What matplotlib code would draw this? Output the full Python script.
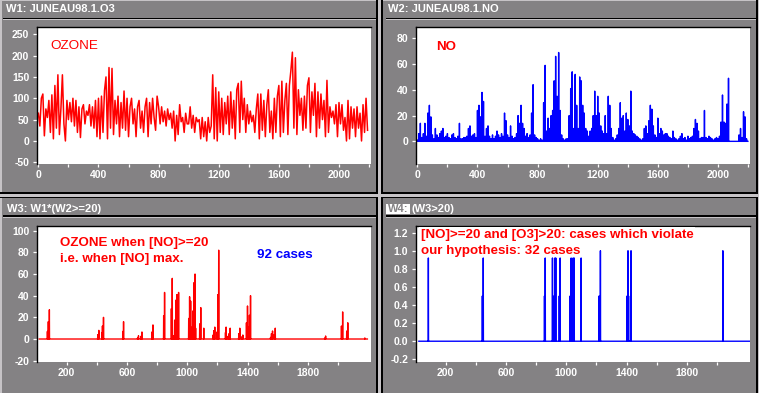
import numpy as np
import matplotlib.pyplot as plt
from matplotlib.patches import Rectangle
from matplotlib.ticker import FormatStrFormatter

plt.rcParams['font.family'] = ['Liberation Sans', 'DejaVu Sans']
plt.rcParams['font.weight'] = 'bold'
plt.rcParams['axes.unicode_minus'] = False
plt.rcParams['path.simplify'] = False

# W1: ozone, one reading every 10 h
o3_step = 10
o3 = [65, 35, 100, 110, 12, 75, 55, 95, 20, 108,
      5, 130, 30, 155, 15, 75, 155, 40, 0, 95,
      50, 90, 45, 100, 35, 95, 20, 80, 8, 75,
      85, 40, 70, 60, 85, 35, 80, 30, 95, 10,
      100, 5, 105, 20, 118, 150, 5, 172, 30, 170,
      15, 95, 40, 105, 10, 90, 30, 117, 25, 100,
      10, 80, 100, 40, 75, 10, 80, 95, 30, 70,
      20, 80, 100, 10, 90, 40, 100, 55, 25, 105,
      80, 40, 80, 45, 70, 35, 75, 50, 65, 30,
      70, 0, 60, 15, 85, 45, 55, 20, 65, 40,
      40, 80, 30, 60, 20, 55, 45, 50, 5, 55,
      10, 45, 0, 55, 20, 35, 155, 5, 125, 0,
      115, 20, 100, 15, 90, 40, 105, 15, 115, 30,
      95, 5, 120, 135, 20, 140, 50, 100, 20, 85,
      40, 70, 45, 60, 20, 75, 110, 5, 110, 25,
      95, 10, 85, 120, 20, 70, 5, 100, 20, 105,
      130, 10, 140, 20, 95, 135, 15, 130, 165, 208,
      30, 195, 15, 120, 60, 100, 25, 105, 30, 130,
      148, 20, 115, 60, 135, 10, 115, 30, 110, 50,
      95, 10, 142, 20, 80, 55, 70, 40, 85, 10,
      90, 40, 85, 25, 55, 0, 95, 5, 80, 30,
      75, 10, 80, 30, 65, 0, 85, 20, 100, 25]

# W2: NO, same 10 h grid
no_step = 10
no = [1, 6, 14, 3, 6, 14, 4, 22, 28, 19,
      5, 2, 10, 5, 3, 6, 8, 10, 3, 4,
      6, 3, 2, 5, 6, 3, 2, 4, 14, 2,
      2, 3, 3, 4, 10, 12, 4, 5, 6, 3,
      24, 28, 19, 38, 31, 4, 10, 12, 4, 2,
      5, 2, 4, 8, 5, 3, 6, 4, 22, 16,
      5, 3, 12, 4, 2, 3, 6, 20, 14, 28,
      14, 10, 4, 6, 3, 5, 22, 44, 5, 3,
      2, 1, 2, 1, 30, 59, 8, 18, 10, 20,
      24, 47, 66, 35, 69, 24, 5, 2, 1, 2,
      2, 20, 41, 54, 10, 52, 28, 10, 50, 47,
      28, 22, 10, 8, 4, 8, 10, 20, 39, 20,
      35, 22, 12, 8, 6, 20, 6, 35, 28, 10,
      3, 1, 2, 5, 10, 30, 18, 20, 8, 22,
      17, 12, 39, 8, 6, 5, 4, 3, 2, 1,
      2, 10, 12, 6, 16, 28, 25, 12, 5, 3,
      18, 6, 10, 8, 5, 6, 6, 4, 3, 2,
      8, 3, 2, 1, 2, 4, 6, 2, 3, 1,
      4, 2, 3, 4, 10, 17, 14, 8, 2, 3,
      3, 24, 3, 2, 4, 3, 2, 1, 2, 3,
      2, 4, 15, 36, 15, 14, 29, 49, 0, 0,
      0, 0, 0, 0, 5, 10, 3, 23, 19, 2]

# W3: ozone where NO >= 20 (zero elsewhere)
w3_span = (18, 2194)
w3_hours = [72, 78, 85, 406, 413, 433, 437, 444, 572, 577, 670, 676, 692, 699,
            765, 772, 843, 849, 894, 900, 909, 916, 925, 931, 936, 942,
            1009, 1015, 1022, 1031, 1038, 1044, 1051, 1055, 1082, 1089, 1109,
            1171, 1175, 1182, 1197, 1202, 1208, 1253, 1257, 1270, 1277, 1284,
            1341, 1348, 1361, 1368, 1392, 1399, 1406, 1412, 1419,
            1552, 1558, 1565, 1576, 1583, 1911, 1917, 2022, 2030, 2057, 2064, 2177]
w3_vals = [7, 16, 27, 4, 8, 6, 12, 20, 7, 16, 1, 3, 2.5, 6.5,
           6.5, 13, 21.5, 43, 28, 56, 3, 17.5, 36, 41, 21, 43,
           19, 39, 35, 11, 26, 52, 60, 10, 14, 29, 10,
           3.7, 7.7, 11, 6.5, 41, 82, 6, 11, 2.5, 5, 10,
           5, 10, 2, 3.7, 15, 30.5, 11, 22, 40,
           1.5, 5, 7.4, 4, 10, 1, 2.8, 12, 25, 7.4, 15, 1]

# W4: W3 > 20
w4_span = (22, 2218)
w4_hours = [85, 443, 449, 855, 860, 908, 917, 924, 930, 953, 959,
            1025, 1032, 1039, 1045, 1052, 1098, 1217, 1226, 1403, 1409, 1425, 1429, 2038]
w4_vals = [0.92, 0.5, 0.92, 0.5, 0.92, 0.92, 0.5, 0.92, 0.92, 0.5, 0.92,
           0.5, 0.92, 0.5, 0.92, 0.92, 0.92, 0.5, 1.0, 0.5, 1.0, 0.5, 1.0, 1.0]

W, H = 759, 393
GRAY = '#848284'
LIGHT = '#c6c3c6'
RED = '#ff0000'
BLUE = '#0000ff'

fig = plt.figure(figsize=(W / 100, H / 100), dpi=100, facecolor=GRAY)

# window frames, in pixel units on a background axes
bg = fig.add_axes([0, 0, 1, 1])
bg.set_xlim(0, W)
bg.set_ylim(H, 0)
bg.axis('off')


def box(x, y, w, h, color):
    bg.add_patch(Rectangle((x, y), w, h, facecolor=color, edgecolor='none', lw=0))


box(0, 0, 1.7, H, LIGHT)
box(0, 0, W, 1, LIGHT)
box(378, 0, 3, H, LIGHT)
box(0, 194, W, 3, LIGHT)
box(758, 0, 1, H, LIGHT)
for y0, y1 in [(0, 194), (197, H)]:
    box(376, y0, 2, y1 - y0, 'black')
    box(381, y0, 1.5, y1 - y0, 'black')
    box(756, y0, 1.7, y1 - y0, 'black')
for x0, x1 in [(0, 378), (381, 758)]:
    box(x0, 192, x1 - x0, 2, 'black')
    box(x0, 197, x1 - x0, 1.3, 'black')
for x0, x1 in [(3, 376), (385.5, 756)]:
    for y in (17.5, 215.3):
        box(x0, y, x1 - x0, 1.3, 'black')
        box(x0, y + 1.3, x1 - x0, 1.3, LIGHT)


def title(x, y, s, color='white'):
    fig.text(x / W, 1 - y / H, s, color=color, fontsize=8,
             fontweight='bold', va='baseline', ha='left')


title(6, 12.3, 'W1: JUNEAU98.1.O3')
title(388, 12.3, 'W2: JUNEAU98.1.NO')
title(6.7, 212, 'W3: W1*(W2>=20)')
box(386.3, 204.3, 23.4, 9.3, 'white')
title(387.5, 212, 'W4:', GRAY)
title(411, 212, '(W3>20)')


def panel(x, y, w, h, xlim, ylim, yticks, xmajor, xminor):
    ax = fig.add_axes([x / W, 1 - (y + h) / H, w / W, h / H])
    ax.set_facecolor('white')
    ax.set_xlim(*xlim)
    ax.set_ylim(*ylim)
    ax.set_yticks(yticks)
    ax.set_xticks(xmajor)
    ax.set_xticks(xminor, minor=True)
    ax.spines[['bottom', 'right']].set_visible(False)
    ax.spines[['left', 'top']].set_linewidth(1.0)
    ax.tick_params(which='both', colors='white', labelsize=7.5, width=0.9)
    ax.tick_params(axis='x', which='both', length=2.2, pad=2.2)
    ax.tick_params(axis='y', length=3, pad=2.5)
    return ax


ax1 = panel(37, 27, 334, 137, (-9, 2213), (-54, 267), range(-50, 251, 50),
            range(0, 2001, 400), range(200, 2201, 400))
ax2 = panel(416, 27, 334, 137, (-9, 2213), (-17.6, 88.8), range(0, 81, 20),
            range(0, 2001, 400), range(200, 2201, 400))
ax3 = panel(37, 225.7, 334, 136.6, (3, 2218), (-21.5, 104.6), range(-20, 101, 20),
            range(200, 1801, 400), range(400, 2201, 400))
ax4 = panel(416, 225.7, 334, 136.6, (3, 2218), (-0.233, 1.277),
            [-0.2, 0.0, 0.2, 0.4, 0.6, 0.8, 1.0, 1.2],
            range(200, 1801, 400), range(400, 2201, 400))
ax4.yaxis.set_major_formatter(FormatStrFormatter('%.1f'))

# W1
o3_hours = np.arange(len(o3)) * o3_step
ax1.plot(o3_hours, o3, color=RED, lw=1.1)

# W2: hourly line, readings at every 10th hour
no_hours = np.arange(len(no) * no_step)
no_line = np.zeros(len(no_hours))
no_line[::no_step] = no
ax2.plot(no_hours, no_line, color=BLUE, lw=1.0)

# W3
w3_t = np.arange(w3_span[0], w3_span[1] + 1)
w3_line = np.zeros(len(w3_t))
w3_line[np.array(w3_hours) - w3_span[0]] = w3_vals
ax3.plot(w3_t, w3_line, color=RED, lw=1.0)

# W4
w4_t = np.arange(w4_span[0], w4_span[1] + 1)
w4_line = np.zeros(len(w4_t))
w4_line[np.array(w4_hours) - w4_span[0]] = w4_vals
ax4.plot(w4_t, w4_line, color=BLUE, lw=1.0)

# annotations
ax1.text(0.041, 0.839, 'OZONE', transform=ax1.transAxes, color=RED,
         fontsize=9.7, fontweight='normal', va='baseline')
ax2.text(0.061, 0.832, 'NO', transform=ax2.transAxes, color=RED,
         fontsize=9.6, va='baseline')
ax3.text(0.069, 0.854, 'OZONE when [NO]>=20', transform=ax3.transAxes,
         color=RED, fontsize=9.6, va='baseline')
ax3.text(0.069, 0.7365, 'i.e. when [NO] max.', transform=ax3.transAxes,
         color=RED, fontsize=9.6, va='baseline')
ax3.text(0.658, 0.761, '92 cases', transform=ax3.transAxes,
         color=BLUE, fontsize=9.6, va='baseline')
ax4.text(0.014, 0.908, '[NO]>=20 and [O3]>20: cases which violate',
         transform=ax4.transAxes, color=RED, fontsize=9.6, va='baseline',
         zorder=5, bbox=dict(facecolor='white', edgecolor='none',
                             boxstyle='square,pad=0.15'))
ax4.text(0.014, 0.791, 'our hypothesis: 32 cases', transform=ax4.transAxes,
         color=RED, fontsize=9.6, va='baseline')

fig.savefig('out.png', dpi=100, facecolor=GRAY)
